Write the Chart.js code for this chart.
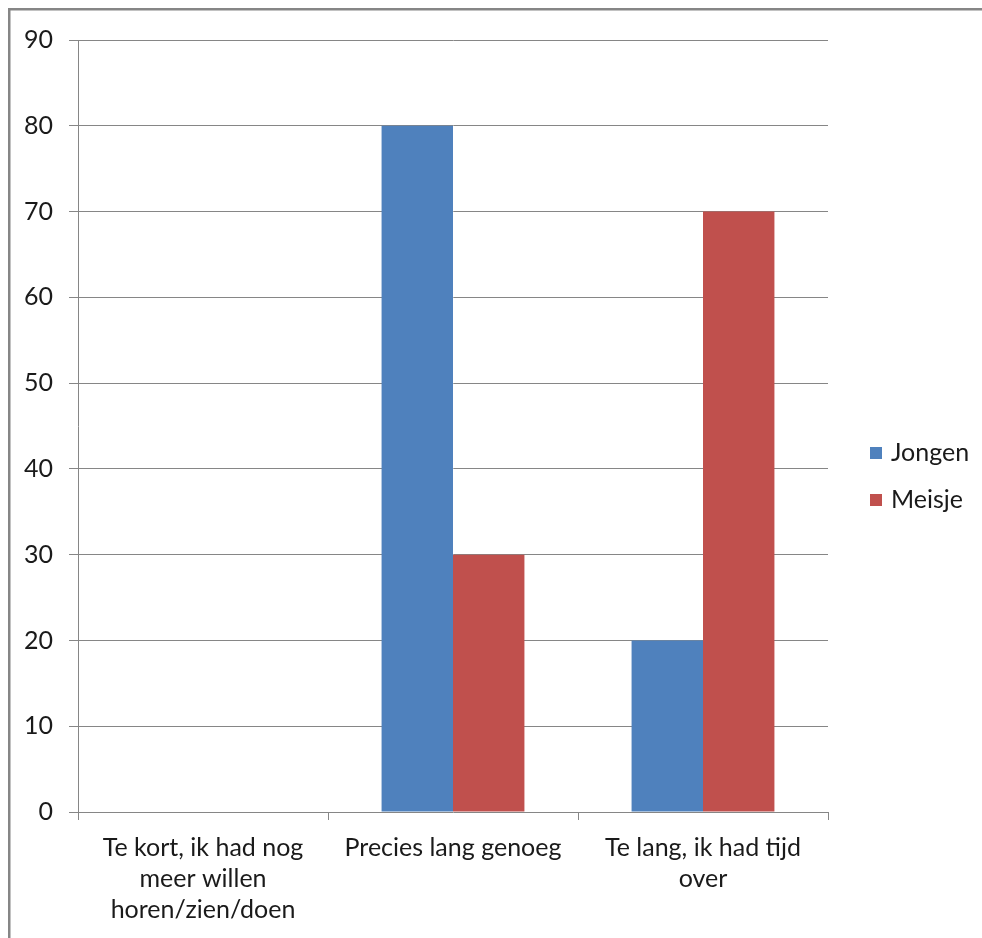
<!DOCTYPE html>
<html>
<head>
<meta charset="utf-8">
<script src="https://cdn.jsdelivr.net/npm/chart.js@4/dist/chart.umd.min.js"></script>
<style>
  html, body { margin: 0; padding: 0; background: #ffffff; }
  #wrap { position: relative; width: 982px; height: 938px; }
</style>
</head>
<body>
<div id="wrap"><canvas id="c" width="982" height="938"></canvas></div>
<script>
// Antwoordcategorieën (meerregelige labels)
const categories = [
  ["Te kort, ik had nog", "meer willen", "horen/zien/doen"],
  ["Precies lang genoeg"],
  ["Te lang, ik had tijd", "over"]
];
const seriesNames = ["Jongen", "Meisje"];
const jongen = [0, 80, 20];
const meisje = [0, 30, 70];
const yTicks = [0, 10, 20, 30, 40, 50, 60, 70, 80, 90];

const FONT = "Lato, 'Open Sans', sans-serif";
const gridColor = "#868686";
const textColor = "#1a1a1a";

// Outer frame and the legend on the right
const framePlugin = {
  id: "frameAndLegend",
  afterDraw(chart) {
    const ctx = chart.ctx;
    ctx.save();
    ctx.strokeStyle = "#868686";
    ctx.lineWidth = 2.5;
    ctx.beginPath();
    ctx.moveTo(9.25, chart.height);
    ctx.lineTo(9.25, 9.25);
    ctx.lineTo(chart.width, 9.25);
    ctx.stroke();

    const items = chart.data.datasets;
    const x0 = 870, yStart = 453, gap = 47, box = 12;
    ctx.font = "25px " + FONT;
    ctx.textBaseline = "middle";
    ctx.textAlign = "left";
    items.forEach((ds, i) => {
      const y = yStart + i * gap;
      ctx.fillStyle = ds.backgroundColor;
      ctx.fillRect(x0, y - box / 2, box, box);
      ctx.fillStyle = textColor;
      ctx.fillText(ds.label, x0 + 21, y);
    });
    ctx.restore();
  }
};

new Chart(document.getElementById("c"), {
  type: "bar",
  data: {
    labels: categories,
    datasets: [
      { label: seriesNames[0], data: jongen, backgroundColor: "#4F81BD" },
      { label: seriesNames[1], data: meisje, backgroundColor: "#C0504D" }
    ]
  },
  options: {
    responsive: false,
    animation: false,
    devicePixelRatio: 1,
    layout: { padding: { left: 0, right: 154, top: 40, bottom: 0 } },
    datasets: { bar: { categoryPercentage: 2 / 3.5, barPercentage: 1 } },
    plugins: { legend: { display: false }, tooltip: { enabled: false } },
    scales: {
      x: {
        afterFit(s) { s.height = 126; },
        grid: {
          offset: true,
          drawOnChartArea: false,
          drawTicks: true,
          tickLength: 8,
          color: gridColor,
          lineWidth: 1
        },
        border: { display: false },
        ticks: {
          color: textColor,
          font: { family: FONT, size: 25, lineHeight: 1.25 },
          padding: 12,
          maxRotation: 0,
          autoSkip: false
        }
      },
      y: {
        min: 0,
        max: 90,
        afterFit(s) { s.width = 78; },
        afterBuildTicks(s) { s.ticks = yTicks.map(v => ({ value: v })); },
        grid: { color: gridColor, lineWidth: 1, tickLength: 9 },
        border: { display: true, color: gridColor, width: 1 },
        ticks: {
          color: textColor,
          font: { family: FONT, size: 25 },
          padding: 16
        }
      }
    }
  },
  plugins: [framePlugin]
});
</script>
</body>
</html>
